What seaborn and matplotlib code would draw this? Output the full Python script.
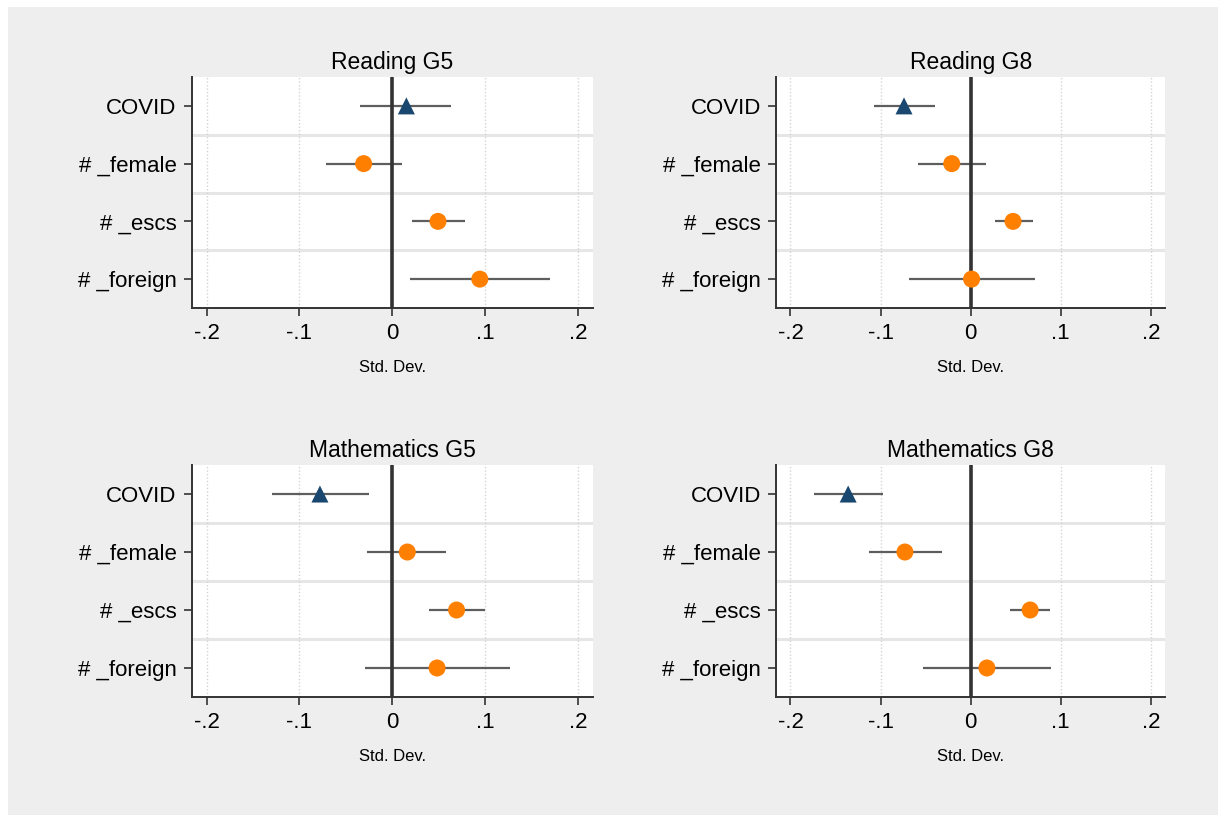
import numpy as np
import pandas as pd
import matplotlib
matplotlib.use("Agg")
import matplotlib.pyplot as plt
import seaborn as sns

# Coefficient plot data (point estimate, lower CI, upper CI) per panel
terms = ["COVID", "# _female", "# _escs", "# _foreign"]
panel_titles = ["Reading G5", "Reading G8", "Mathematics G5", "Mathematics G8"]

read5_est = [0.015, -0.031, 0.049, 0.094]
read5_lo = [-0.035, -0.071, 0.021, 0.019]
read5_hi = [0.063, 0.010, 0.078, 0.169]

read8_est = [-0.074, -0.021, 0.047, 0.001]
read8_lo = [-0.107, -0.058, 0.027, -0.069]
read8_hi = [-0.040, 0.017, 0.069, 0.071]

math5_est = [-0.078, 0.016, 0.069, 0.048]
math5_lo = [-0.130, -0.027, 0.039, -0.030]
math5_hi = [-0.025, 0.058, 0.100, 0.127]

math8_est = [-0.136, -0.073, 0.066, 0.018]
math8_lo = [-0.174, -0.113, 0.044, -0.053]
math8_hi = [-0.097, -0.032, 0.088, 0.089]

xticks = [-0.2, -0.1, 0, 0.1, 0.2]
xtick_labels = ["-.2", "-.1", "0", ".1", ".2"]
xlabel = "Std. Dev."

panels = [
    (read5_est, read5_lo, read5_hi),
    (read8_est, read8_lo, read8_hi),
    (math5_est, math5_lo, math5_hi),
    (math8_est, math8_lo, math8_hi),
]

sns.set_style("white")
plt.rcParams["font.family"] = ["Liberation Sans", "DejaVu Sans"]
plt.rcParams["text.color"] = "black"
plt.rcParams["xtick.color"] = "black"
plt.rcParams["ytick.color"] = "black"
plt.rcParams["axes.labelcolor"] = "black"

NAVY = "#1a476f"
ORANGE = "#ff7f00"
BG = "#eeeeee"

fig = plt.figure(figsize=(12.18, 8.15), dpi=100, facecolor="white")
# gray graph region
fig.patches.append(plt.Rectangle((8 / 1218, 0), 1 - 8 / 1218, 1 - 7 / 815,
                                 transform=fig.transFigure, facecolor=BG,
                                 edgecolor="none", zorder=-10))

positions = [
    [0.1576, 0.6221, 0.3292, 0.2834],
    [0.6374, 0.6221, 0.3191, 0.2834],
    [0.1576, 0.1448, 0.3292, 0.2846],
    [0.6374, 0.1448, 0.3191, 0.2846],
]

for (est, lo, hi), title, pos in zip(panels, panel_titles, positions):
    ax = fig.add_axes(pos)
    ax.set_facecolor("white")
    ypos = np.arange(1, len(terms) + 1)
    df = pd.DataFrame({
        "term": terms,
        "y": ypos,
        "est": est,
        "lo": lo,
        "hi": hi,
        "kind": ["covid"] + ["inter"] * (len(terms) - 1),
    })

    # separators between rows
    for yy in ypos[:-1] + 0.5:
        ax.axhline(yy, color="#e6e6e6", lw=2.2, zorder=1)
    # dotted vertical grid
    for xt in xticks:
        if xt != 0:
            ax.axvline(xt, color="#d4d4d4", lw=1.0, ls=(0, (1, 1.5)), zorder=1)

    ax.hlines(df["y"], df["lo"], df["hi"], color="#5e5e5e", lw=1.6, zorder=2)
    ax.axvline(0, color="#333333", lw=2.6, zorder=3)

    sns.scatterplot(data=df, x="est", y="y", hue="kind", style="kind",
                    palette={"covid": NAVY, "inter": ORANGE},
                    markers={"covid": "^", "inter": "o"},
                    s=150, edgecolor="none", linewidth=0, legend=False,
                    ax=ax, zorder=4)

    ax.set_xlim(-0.2157, 0.2157)
    ax.set_ylim(len(terms) + 0.5, 0.5)
    ax.set_yticks(ypos)
    ax.set_yticklabels(terms, fontsize=16)
    ax.set_xticks(xticks)
    ax.set_xticklabels(xtick_labels, fontsize=16)
    ax.tick_params(axis="both", direction="out", length=6, width=1.2,
                   color="#333333", labelcolor="black", left=True, bottom=True)
    ax.tick_params(axis="x", pad=5)
    ax.tick_params(axis="y", pad=5)
    ax.set_xlabel(xlabel, fontsize=12, labelpad=11)
    ax.set_ylabel("")
    ax.set_title(title, fontsize=16.5, pad=6, color="black")

    for side in ["top", "right"]:
        ax.spines[side].set_visible(False)
    for side in ["left", "bottom"]:
        ax.spines[side].set_color("#333333")
        ax.spines[side].set_linewidth(1.4)

fig.savefig("out.png", dpi=100, facecolor=fig.get_facecolor())
